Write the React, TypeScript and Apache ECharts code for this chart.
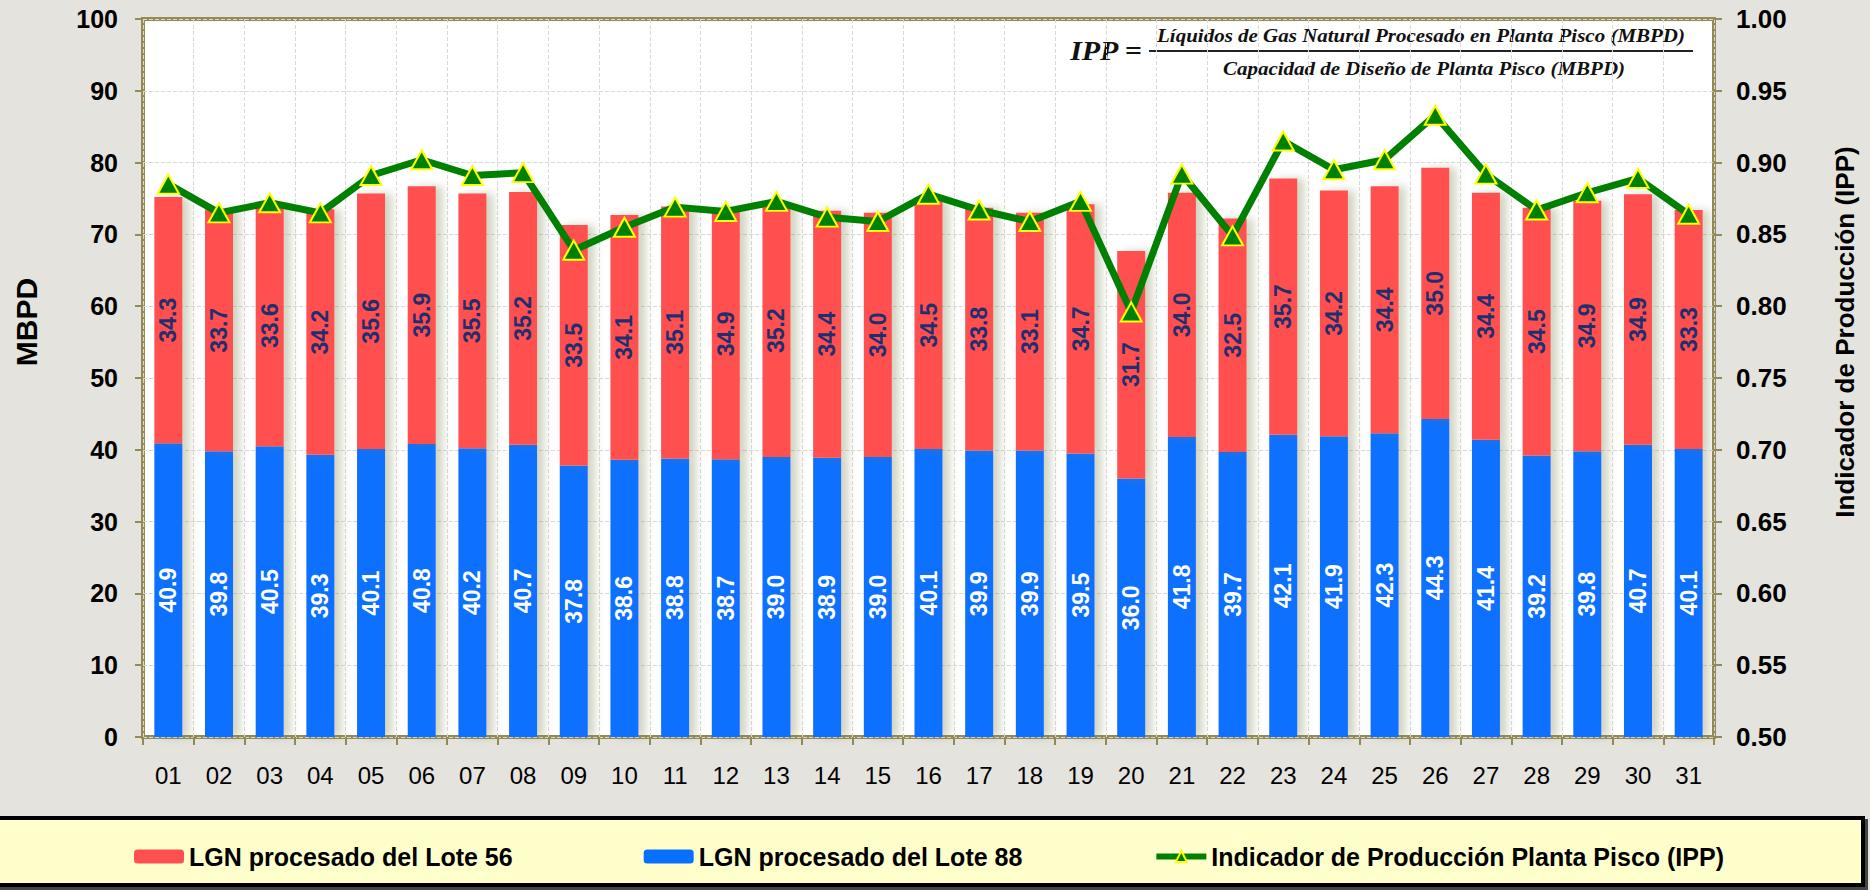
import React, { useEffect, useRef } from "react";
import * as echarts from "echarts";

const days = ["01","02","03","04","05","06","07","08","09","10","11","12","13","14","15","16","17","18","19","20","21","22","23","24","25","26","27","28","29","30","31"];
const lote56 = [34.3,33.7,33.6,34.2,35.6,35.9,35.5,35.2,33.5,34.1,35.1,34.9,35.2,34.4,34.0,34.5,33.8,33.1,34.7,31.7,34.0,32.5,35.7,34.2,34.4,35.0,34.4,34.5,34.9,34.9,33.3];
const lote88 = [40.9,39.8,40.5,39.3,40.1,40.8,40.2,40.7,37.8,38.6,38.8,38.7,39.0,38.9,39.0,40.1,39.9,39.9,39.5,36.0,41.8,39.7,42.1,41.9,42.3,44.3,41.4,39.2,39.8,40.7,40.1];
const ipp = [0.885,0.865,0.872,0.865,0.891,0.902,0.891,0.893,0.839,0.855,0.869,0.866,0.873,0.862,0.859,0.878,0.867,0.859,0.873,0.796,0.892,0.849,0.915,0.895,0.902,0.933,0.892,0.867,0.879,0.889,0.864];

const name56 = "LGN procesado del Lote 56";
const name88 = "LGN procesado del Lote 88";
const nameIpp = "Indicador de Producción Planta Pisco (IPP)";
const numerator = "Líquidos de Gas Natural Procesado en Planta Pisco (MBPD)";
const denominator = "Capacidad de Diseño de Planta Pisco (MBPD)";

const FONT = "'Liberation Sans', Arial, sans-serif";
const SERIF = "'Liberation Serif', 'DejaVu Serif', serif";
const OLIVE = "#948A54";

export default function App() {
  const ref = useRef<HTMLDivElement>(null);
  useEffect(() => {
    if (!ref.current) return;
    const chart = echarts.init(ref.current, undefined, { renderer: "svg" });
    const barShadow = { shadowColor: "rgba(120,130,80,0.35)", shadowBlur: 8, shadowOffsetX: 7, shadowOffsetY: 0 };
    chart.setOption({
      animation: false,
      backgroundColor: "#E4E3DE",
      grid: { left: 143, right: 156, top: 19, bottom: 153, show: true, backgroundColor: "#FFFFFF", borderColor: OLIVE, borderWidth: 4 },
      legend: {
        data: [name56, name88, nameIpp],
        left: 129, top: 839,
        itemWidth: 50, itemHeight: 14, itemGap: 131,
        textStyle: { fontSize: 25, fontWeight: "bold", color: "#000", fontFamily: FONT },
        itemStyle: { shadowBlur: 0, shadowOffsetX: 0, shadowColor: "transparent" },
        lineStyle: { width: 6 },
      },
      xAxis: {
        type: "category",
        data: days,
        axisLine: { show: false },
        axisTick: { show: true, length: 8, lineStyle: { color: OLIVE, width: 2 } },
        axisLabel: { fontSize: 24, color: "#000", fontFamily: FONT, margin: 26 },
        splitLine: { show: true, lineStyle: { color: "#D9D9D9", type: "dashed", width: 1 } },
      },
      yAxis: [
        {
          type: "value", min: 0, max: 100, interval: 10,
          axisLine: { show: false },
          axisTick: { show: true, length: 8, lineStyle: { color: OLIVE, width: 2 } },
          axisLabel: { fontSize: 25, fontWeight: "bold", color: "#000", fontFamily: FONT, margin: 25 },
          splitLine: { show: true, lineStyle: { color: "#D9D9D9", type: "dashed", width: 1 } },
        },
        {
          type: "value", min: 0.5, max: 1.0, interval: 0.05,
          axisLine: { show: false },
          axisTick: { show: true, length: 8, lineStyle: { color: OLIVE, width: 2 } },
          axisLabel: { fontSize: 26, fontWeight: "bold", color: "#000", fontFamily: FONT, margin: 22, formatter: (v: number) => v.toFixed(2) },
          splitLine: { show: false },
        },
      ],
      series: [
        {
          name: name88, type: "bar", stack: "lgn", data: lote88, barWidth: 28,
          itemStyle: { color: "#0770FF", ...barShadow },
          label: { show: true, position: "inside", rotate: 90, color: "#FFFFFF", fontSize: 23, fontWeight: "bold", fontFamily: FONT, formatter: (p: any) => p.value.toFixed(1) },
        },
        {
          name: name56, type: "bar", stack: "lgn", data: lote56, barWidth: 28,
          itemStyle: { color: "#FF5050", ...barShadow },
          label: { show: true, position: "inside", rotate: 90, color: "#1F2F6E", fontSize: 23, fontWeight: "bold", fontFamily: FONT, formatter: (p: any) => p.value.toFixed(1) },
        },
        {
          name: nameIpp, type: "line", yAxisIndex: 1, data: ipp, z: 5,
          symbol: "triangle", symbolSize: [21, 19],
          lineStyle: { color: "#008000", width: 7 },
          itemStyle: { color: "#008000", borderColor: "#FFFF00", borderWidth: 2 },
        },
      ],
      graphic: [
        { type: "rect", z: 0, shape: { x: -3, y: 818, width: 1866, height: 67 }, style: { fill: "#FFFFCC", stroke: "#000", lineWidth: 4, shadowBlur: 0, shadowOffsetX: 3, shadowOffsetY: 3, shadowColor: "rgba(0,0,0,0.7)" } },
        { type: "text", x: 26, y: 322, rotation: Math.PI / 2, style: { text: "MBPD", fontSize: 30, fontWeight: "bold", fontFamily: FONT, fill: "#000", textAlign: "center", align: "center", textVerticalAlign: "middle", verticalAlign: "middle" } },
        { type: "text", x: 1845, y: 332, rotation: Math.PI / 2, style: { text: "Indicador de Producción (IPP)", fontSize: 26, fontWeight: "bold", fontFamily: FONT, fill: "#000", textAlign: "center", align: "center", textVerticalAlign: "middle", verticalAlign: "middle" } },
        { type: "text", x: 1106, y: 51, scaleY: 0.9, style: { text: "IPP =", fontSize: 30, fontStyle: "italic", fontWeight: "bold", fontFamily: SERIF, fill: "#111", textAlign: "center", align: "center", textVerticalAlign: "middle", verticalAlign: "middle" } },
        { type: "text", x: 1421, y: 35, scaleY: 0.92, style: { text: numerator, fontSize: 21, fontStyle: "italic", fontWeight: "bold", fontFamily: SERIF, fill: "#111", textAlign: "center", align: "center", textVerticalAlign: "middle", verticalAlign: "middle" } },
        { type: "text", x: 1424, y: 68, scaleY: 0.92, style: { text: denominator, fontSize: 21, fontStyle: "italic", fontWeight: "bold", fontFamily: SERIF, fill: "#111", textAlign: "center", align: "center", textVerticalAlign: "middle", verticalAlign: "middle" } },
        { type: "line", shape: { x1: 1149, y1: 51, x2: 1693, y2: 51 }, style: { stroke: "#222", lineWidth: 2 } },
      ],
    });
    return () => chart.dispose();
  }, []);
  return <div ref={ref} style={{ position: "absolute", left: 0, top: 0, width: 1870, height: 890 }} />;
}
